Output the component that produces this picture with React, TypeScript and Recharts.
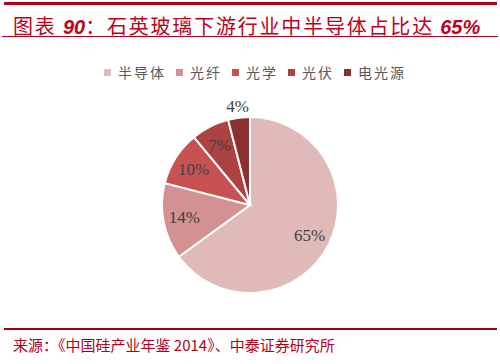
import React from 'react';
import { PieChart, Pie, Cell } from 'recharts';

const categories = ['半导体', '光纤', '光学', '光伏', '电光源'];
const shares = [65, 14, 10, 7, 4];
const colors = ['#e0b9b9', '#d39191', '#c85252', '#ae4141', '#8c2f30'];

const data = categories.map((name, i) => ({ name, value: shares[i] }));

const RAD = Math.PI / 180;

const renderLabel = (props: any) => {
  const { cx, cy, midAngle, outerRadius, value } = props;
  // the smallest slice gets its label just outside the rim
  const r = value < 5 ? outerRadius * 1.13 : outerRadius * 0.76;
  const x = cx + r * Math.cos(-midAngle * RAD);
  const y = cy + r * Math.sin(-midAngle * RAD);
  return (
    <text
      x={x}
      y={y}
      fill="#404040"
      fontSize={17}
      fontFamily="'Liberation Serif', 'DejaVu Serif', serif"
      textAnchor="middle"
      dominantBaseline="central"
    >
      {value}%
    </text>
  );
};

const num: React.CSSProperties = {
  fontFamily: 'Arial, Liberation Sans, sans-serif',
  fontStyle: 'italic',
  fontWeight: 'bold',
  letterSpacing: 0,
};

const App: React.FC = () => {
  return (
    <div
      style={{
        position: 'fixed',
        left: 0,
        top: 0,
        width: 500,
        height: 364,
        background: '#fff',
        fontFamily: "'Noto Sans CJK SC', sans-serif",
        overflow: 'hidden',
      }}
    >
      {/* top rule */}
      <div style={{ position: 'absolute', left: 4, top: 2, width: 493, height: 3, background: '#b3001b' }} />

      {/* title */}
      <div
        style={{
          position: 'absolute',
          left: 13,
          top: 13,
          fontSize: 20,
          lineHeight: '26px',
          letterSpacing: 1.8,
          color: '#c0001a',
          whiteSpace: 'nowrap',
        }}
      >
        图表 <span style={num}>90</span>：石英玻璃下游行业中半导体占比达 <span style={num}>65%</span>
      </div>
      <div style={{ position: 'absolute', left: 2, top: 36, width: 496, height: 1, background: '#b3001b' }} />

      {/* legend */}
      <div
        style={{
          position: 'absolute',
          left: 104,
          top: 62,
          display: 'flex',
          fontSize: 14,
          color: '#595959',
          whiteSpace: 'nowrap',
          lineHeight: '20px',
        }}
      >
        {categories.map((c, i) => (
          <div key={c} style={{ display: 'flex', alignItems: 'center', marginRight: 10 }}>
            <span style={{ width: 7, height: 7, background: colors[i], marginRight: 7, display: 'inline-block' }} />
            <span style={{ letterSpacing: 2 }}>{c}</span>
          </div>
        ))}
      </div>

      <div style={{ position: 'absolute', left: 0, top: 0 }}>
        <PieChart width={500} height={364} margin={{ top: 0, right: 0, bottom: 0, left: 0 }}>
          <Pie
            data={data}
            dataKey="value"
            nameKey="name"
            cx={250}
            cy={205}
            outerRadius={88}
            startAngle={90}
            endAngle={-270}
            stroke="#ffffff"
            strokeWidth={2}
            label={renderLabel}
            labelLine={false}
            isAnimationActive={false}
          >
            {data.map((d, i) => (
              <Cell key={d.name} fill={colors[i]} />
            ))}
          </Pie>
        </PieChart>
      </div>

      {/* bottom rule and source */}
      <div style={{ position: 'absolute', left: 4, top: 328, width: 493, height: 2, background: '#9e0016' }} />
      <div
        style={{
          position: 'absolute',
          left: 13,
          top: 335,
          fontSize: 15,
          lineHeight: '20px',
          color: '#b3001b',
          whiteSpace: 'nowrap',
        }}
      >
        来源：《中国硅产业年鉴 2014》、中泰证券研究所
      </div>
    </div>
  );
};

export default App;
